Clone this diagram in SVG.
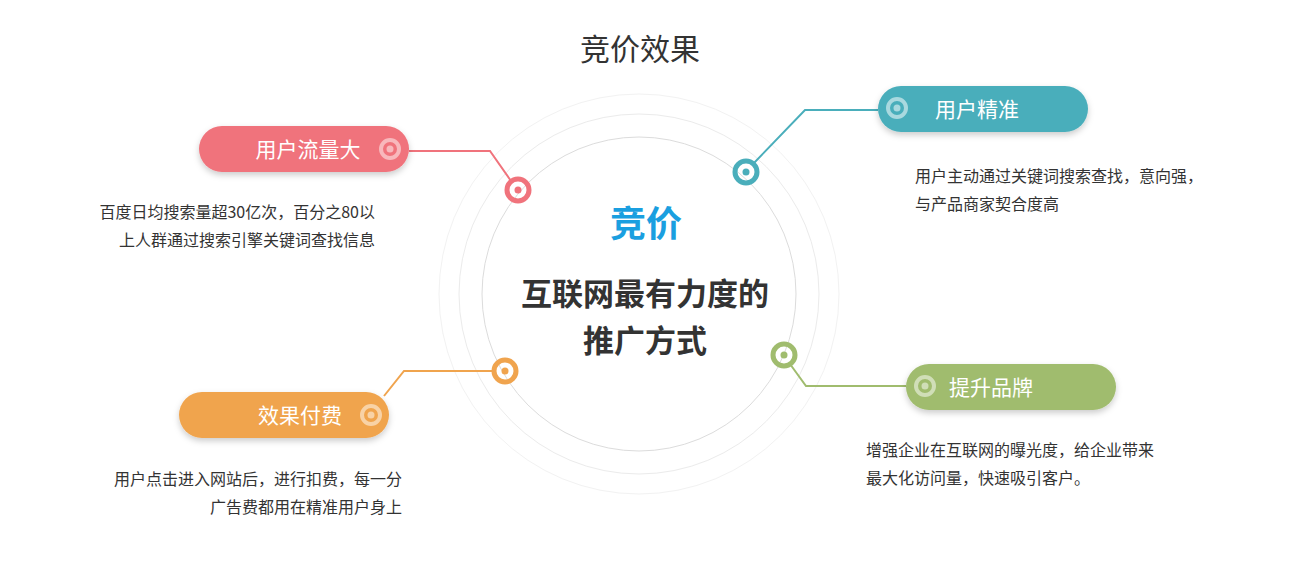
<svg xmlns="http://www.w3.org/2000/svg" width="1298" height="575" viewBox="0 0 1298 575">
<defs>
<style>
text{font-family:"Noto Sans CJK SC","Liberation Sans",sans-serif}
.desc{font-size:16px;fill:#333}
.pt{font-size:21px;fill:#fff}
.ring{fill:none;stroke-width:5}
</style>
<filter id="sh" x="-10%" y="-30%" width="120%" height="170%"><feDropShadow dx="0" dy="3" stdDeviation="3" flood-color="#000" flood-opacity="0.2"/></filter>
</defs>
<rect width="1298" height="575" fill="#fff"/>
<text x="640" y="60" font-size="30" fill="#333" text-anchor="middle">竞价效果</text>
<g id="center">
<circle cx="639" cy="294" r="200" fill="none" stroke="#f2f2f2" stroke-width="1"/>
<circle cx="639" cy="294" r="180" fill="none" stroke="#ebebeb" stroke-width="1"/>
<circle cx="639" cy="294" r="157" fill="none" stroke="#dcdcdc" stroke-width="1"/>
<text x="646" y="237" font-size="36" font-weight="bold" fill="#1a9fe0" text-anchor="middle">竞价</text>
<text x="645" y="305" font-size="31" font-weight="bold" fill="#333" text-anchor="middle">互联网最有力度的</text>
<text x="645" y="352" font-size="31" font-weight="bold" fill="#333" text-anchor="middle">推广方式</text>
</g>
<g id="connectors" fill="none" stroke-width="2">
<polyline points="409,151 490,151 511,181" stroke="#f0737c"/>
<polyline points="878,110 805,110 753,164" stroke="#4aaebb"/>
<polyline points="493,371 404,371 384,396" stroke="#f0a44e"/>
<polyline points="790,364 806,386 906,386" stroke="#a0bc6e"/>
</g>
<g id="n1">
<rect x="199" y="126" width="210" height="46" rx="23" fill="#f0737c" filter="url(#sh)"/>
<text x="308" y="157" class="pt" text-anchor="middle">用户流量大</text>
<circle cx="390" cy="149" r="9" fill="none" stroke="#f8b8bc" stroke-width="4"/><circle cx="390" cy="149" r="3.5" fill="#f8b8bc"/>
<circle cx="518" cy="190" r="11" class="ring" stroke="#f0737c" fill="#fff"/><circle cx="518" cy="190" r="3.5" fill="#f0737c"/>
<text x="375" y="218" class="desc" text-anchor="end">百度日均搜索量超30亿次，百分之80以</text>
<text x="375" y="246" class="desc" text-anchor="end">上人群通过搜索引擎关键词查找信息</text>
</g>
<g id="n2">
<rect x="878" y="86" width="210" height="46" rx="23" fill="#4aaebb" filter="url(#sh)"/>
<text x="977" y="117" class="pt" text-anchor="middle">用户精准</text>
<circle cx="897" cy="108" r="9" fill="none" stroke="#a9d9df" stroke-width="4"/><circle cx="897" cy="108" r="3.5" fill="#a9d9df"/>
<circle cx="746" cy="172" r="11" class="ring" stroke="#4aaebb" fill="#fff"/><circle cx="746" cy="172" r="3.5" fill="#4aaebb"/>
<text x="915" y="182" class="desc">用户主动通过关键词搜索查找，意向强，</text>
<text x="915" y="210" class="desc">与产品商家契合度高</text>
</g>
<g id="n3">
<rect x="179" y="392" width="210" height="46" rx="23" fill="#f0a44e" filter="url(#sh)"/>
<text x="300" y="423" class="pt" text-anchor="middle">效果付费</text>
<circle cx="371" cy="415" r="9" fill="none" stroke="#f8d2a6" stroke-width="4"/><circle cx="371" cy="415" r="3.5" fill="#f8d2a6"/>
<circle cx="505" cy="371" r="11" class="ring" stroke="#f0a44e" fill="#fff"/><circle cx="505" cy="371" r="3.5" fill="#f0a44e"/>
<text x="402" y="485" class="desc" text-anchor="end">用户点击进入网站后，进行扣费，每一分</text>
<text x="402" y="513" class="desc" text-anchor="end">广告费都用在精准用户身上</text>
</g>
<g id="n4">
<rect x="906" y="364" width="210" height="46" rx="23" fill="#a0bc6e" filter="url(#sh)"/>
<text x="991" y="395" class="pt" text-anchor="middle">提升品牌</text>
<circle cx="925" cy="386" r="9" fill="none" stroke="#d0deb7" stroke-width="4"/><circle cx="925" cy="386" r="3.5" fill="#d0deb7"/>
<circle cx="784" cy="355" r="11" class="ring" stroke="#a0bc6e" fill="#fff"/><circle cx="784" cy="355" r="3.5" fill="#a0bc6e"/>
<text x="866" y="456" class="desc">增强企业在互联网的曝光度，给企业带来</text>
<text x="866" y="484" class="desc">最大化访问量，快速吸引客户。</text>
</g>
</svg>
